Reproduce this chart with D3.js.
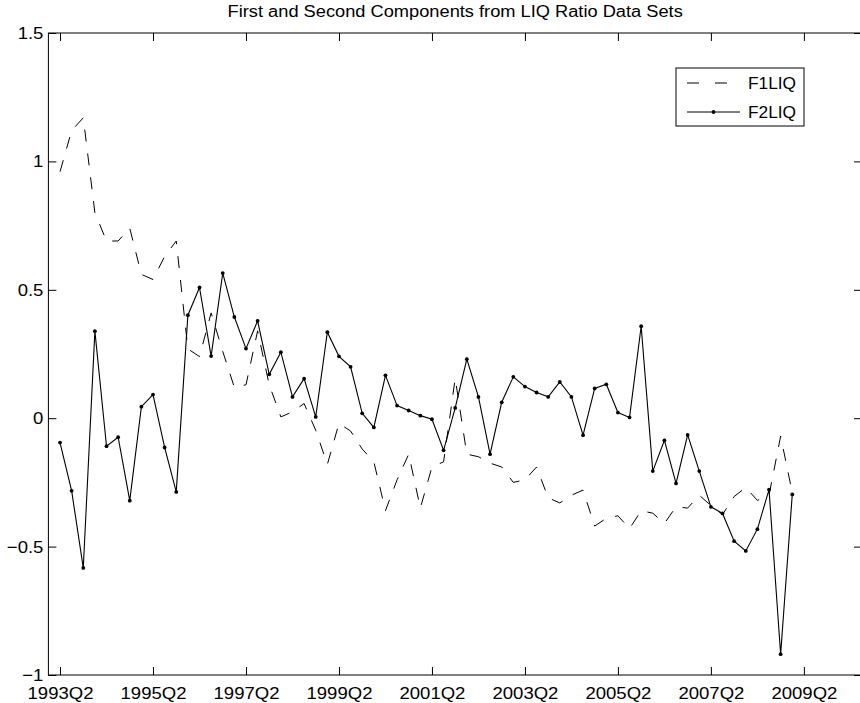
<!DOCTYPE html>
<html>
<head>
<meta charset="utf-8">
<script src="https://cdn.jsdelivr.net/npm/d3@7"></script>
<style>
  body { margin: 0; background: #fff; }
  svg { display: block; font-family: "Liberation Sans", Arial, Helvetica, sans-serif; }
</style>
</head>
<body>
<svg id="chart" width="860" height="703"></svg>
<script>
// quarter index 1 = 1993Q2 ... 64 = 2009Q1
const f1liq = [
  0.96, 1.12, 1.17, 0.80, 0.69, 0.69, 0.74, 0.56, 0.54, 0.63,
  0.69, 0.27, 0.24, 0.41, 0.26, 0.12, 0.13, 0.34, 0.13, 0.005,
  0.025, 0.057, -0.047, -0.18, -0.02, -0.05, -0.12, -0.17, -0.36, -0.24,
  -0.14, -0.35, -0.19, -0.17, 0.155, -0.14, -0.15, -0.175, -0.19, -0.25,
  -0.24, -0.19, -0.31, -0.33, -0.30, -0.28, -0.42, -0.39, -0.38, -0.43,
  -0.36, -0.37, -0.41, -0.345, -0.35, -0.30, -0.34, -0.375, -0.305, -0.27,
  -0.32, -0.30, -0.07, -0.29
];
const f2liq = [
  -0.095, -0.283, -0.583, 0.339, -0.109, -0.074, -0.321, 0.045, 0.092, -0.114,
  -0.287, 0.401, 0.509, 0.242, 0.565, 0.394, 0.271, 0.379, 0.171, 0.257,
  0.083, 0.154, 0.005, 0.335, 0.241, 0.200, 0.019, -0.036, 0.167, 0.049,
  0.030, 0.010, -0.004, -0.125, 0.040, 0.230, 0.083, -0.140, 0.062, 0.161,
  0.123, 0.100, 0.083, 0.141, 0.083, -0.066, 0.116, 0.132, 0.022, 0.003,
  0.358, -0.206, -0.086, -0.254, -0.065, -0.206, -0.345, -0.371, -0.479, -0.517,
  -0.432, -0.278, -0.919, -0.297
];
const xTickIndex = [1, 9, 17, 25, 33, 41, 49, 57, 65];
const xTickLabels = ["1993Q2", "1995Q2", "1997Q2", "1999Q2", "2001Q2",
                     "2003Q2", "2005Q2", "2007Q2", "2009Q2"];
const yTicks = [-1, -0.5, 0, 0.5, 1, 1.5];
const seriesNames = ["F1LIQ", "F2LIQ"];

const svg = d3.select("#chart");
const box = { left: 48.4, right: 862, top: 33, bottom: 675 };

const x = d3.scaleLinear().domain([0, 70]).range([box.left, box.right]);
const y = d3.scaleLinear().domain([-1, 1.5]).range([box.bottom, box.top]);

// the source image text is a bit wider than the font, stretch it
function widen(sel, k) {
  sel.each(function () {
    const len = this.getComputedTextLength();
    d3.select(this)
      .attr("textLength", len * k)
      .attr("lengthAdjust", "spacingAndGlyphs");
  });
}

// title
svg.append("text")
  .attr("x", (box.left + box.right) / 2)
  .attr("y", 17)
  .attr("text-anchor", "middle")
  .attr("font-size", 16)
  .text("First and Second Components from LIQ Ratio Data Sets")
  .call(widen, 1.14);

// axes, ticks pointing inward like matlab
const tickLab = d3.scaleOrdinal().domain(xTickIndex).range(xTickLabels);
svg.append("g")
  .attr("transform", `translate(0,${box.bottom})`)
  .call(d3.axisBottom(x).tickValues(xTickIndex).tickFormat(tickLab)
    .tickSizeInner(-8).tickSizeOuter(0).tickPadding(11.5))
  .call(g => g.select(".domain").remove());
svg.append("g")
  .attr("transform", `translate(0,${box.top})`)
  .call(d3.axisTop(x).tickValues(xTickIndex).tickFormat("")
    .tickSizeInner(-8).tickSizeOuter(0))
  .call(g => g.select(".domain").remove());
svg.append("g")
  .attr("transform", `translate(${box.left},0)`)
  .call(d3.axisLeft(y).tickValues(yTicks).tickFormat(d3.format("~g"))
    .tickSizeInner(-8).tickSizeOuter(0).tickPadding(5))
  .call(g => g.select(".domain").remove());
svg.append("g")
  .attr("transform", `translate(${box.right},0)`)
  .call(d3.axisRight(y).tickValues(yTicks).tickFormat(""))
  .call(g => g.selectAll(".tick line").attr("x2", -8))
  .call(g => g.select(".domain").remove());

svg.selectAll(".tick text")
  .attr("font-size", 17)
  .attr("font-family", "Liberation Sans, Arial, sans-serif")
  .attr("fill", "#000")
  .filter(function () { return this.textContent !== ""; })
  .call(widen, 1.09);
svg.selectAll(".tick line").attr("stroke", "#000");

svg.append("rect")
  .attr("x", box.left).attr("y", box.top)
  .attr("width", box.right - box.left).attr("height", box.bottom - box.top)
  .attr("fill", "none").attr("stroke", "#000").attr("stroke-width", 1);

const line = d3.line().x((d, i) => x(i + 1)).y(d => y(d));

svg.append("path")
  .datum(f1liq)
  .attr("d", line)
  .attr("fill", "none")
  .attr("stroke", "#000")
  .attr("stroke-width", 1)
  .attr("stroke-dasharray", "12,12");

svg.append("path")
  .datum(f2liq)
  .attr("d", line)
  .attr("fill", "none")
  .attr("stroke", "#000")
  .attr("stroke-width", 1.1);

svg.append("g").selectAll("circle")
  .data(f2liq)
  .join("circle")
  .attr("cx", (d, i) => x(i + 1))
  .attr("cy", d => y(d))
  .attr("r", 1.9)
  .attr("fill", "#000");

// legend
const lg = svg.append("g");
lg.append("rect")
  .attr("x", 676).attr("y", 68).attr("width", 128).attr("height", 58)
  .attr("fill", "#fff").attr("stroke", "#000");
lg.append("line")
  .attr("x1", 687).attr("x2", 740).attr("y1", 83).attr("y2", 83)
  .attr("stroke", "#000").attr("stroke-dasharray", "12,16");
lg.append("line")
  .attr("x1", 687).attr("x2", 740).attr("y1", 112).attr("y2", 112)
  .attr("stroke", "#000");
lg.append("circle")
  .attr("cx", 713.5).attr("cy", 112).attr("r", 1.9).attr("fill", "#000");
lg.selectAll("text.lab")
  .data(seriesNames)
  .join("text")
  .attr("x", 748)
  .attr("y", (d, i) => 89 + i * 29)
  .attr("font-size", 16)
  .text(d => d)
  .call(widen, 1.08);
</script>
</body>
</html>
